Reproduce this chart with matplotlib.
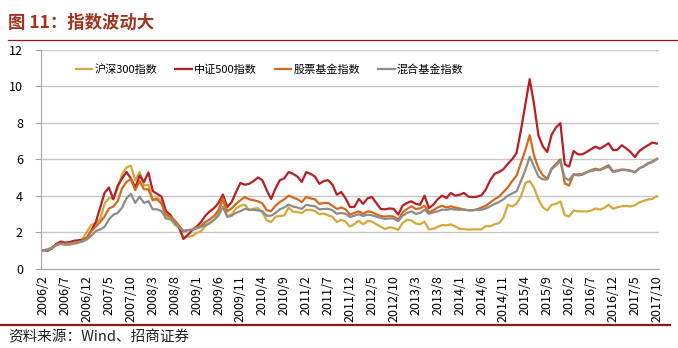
import numpy as np
import pandas as pd
import matplotlib
matplotlib.use('Agg')
import matplotlib.pyplot as plt
from matplotlib.lines import Line2D

plt.rcParams['font.family'] = ['Noto Sans CJK SC', 'DejaVu Sans']

# 月度数据，2006/2 = 1
months = pd.period_range('2006-02', '2017-10', freq='M')
labels = [f'{p.year}/{p.month}' for p in months]

hs300 = [1.00, 1.04, 1.17, 1.33, 1.36, 1.29, 1.30, 1.34, 1.40, 1.62,
         2.03, 2.40, 2.48, 2.72, 3.55, 3.87, 3.85, 4.42, 5.18, 5.55,
         5.65, 4.85, 5.30, 4.55, 4.60, 3.78, 3.88, 3.70, 2.78, 2.75,
         2.40, 2.25, 1.70, 1.75, 1.78, 1.95, 2.05, 2.33, 2.48, 2.68,
         3.10, 3.75, 2.86, 2.97, 3.30, 3.45, 3.50, 3.20, 3.28, 3.32,
         3.08, 2.65, 2.55, 2.85, 2.88, 2.92, 3.35, 3.12, 3.10, 3.05,
         3.22, 3.22, 3.16, 2.98, 3.02, 2.92, 2.84, 2.55, 2.68, 2.57,
         2.30, 2.44, 2.62, 2.43, 2.60, 2.58, 2.43, 2.30, 2.17, 2.26,
         2.22, 2.12, 2.50, 2.68, 2.64, 2.47, 2.43, 2.57, 2.15, 2.18,
         2.29, 2.38, 2.37, 2.42, 2.31, 2.18, 2.16, 2.14, 2.15, 2.15,
         2.15, 2.33, 2.32, 2.43, 2.49, 2.79, 3.50, 3.41, 3.56, 3.96,
         4.70, 4.80, 4.43, 3.80, 3.36, 3.19, 3.50, 3.55, 3.68, 2.93,
         2.86, 3.18, 3.14, 3.14, 3.13, 3.18, 3.30, 3.23, 3.32, 3.50,
         3.28, 3.36, 3.42, 3.43, 3.41, 3.47, 3.63, 3.72, 3.79, 3.82,
         3.98]

zz500 = [1.00, 0.98, 1.10, 1.35, 1.48, 1.42, 1.45, 1.52, 1.55, 1.58,
         1.68, 2.10, 2.55, 3.35, 4.15, 4.45, 3.80, 4.55, 4.95, 5.30,
         4.95, 4.45, 5.10, 4.75, 5.28, 4.25, 4.10, 3.95, 3.15, 2.95,
         2.55, 2.25, 1.62, 1.85, 2.10, 2.30, 2.55, 2.90, 3.14, 3.32,
         3.60, 4.06, 3.38, 3.65, 4.20, 4.70, 4.60, 4.65, 4.80, 5.00,
         4.85, 4.30, 3.82, 4.40, 4.85, 4.95, 5.30, 5.20, 5.05, 4.75,
         5.29, 5.20, 5.05, 4.65, 4.80, 4.85, 4.60, 4.05, 4.20, 3.85,
         3.38, 3.38, 3.82, 3.55, 3.85, 3.93, 3.60, 3.27, 3.25, 3.30,
         3.27, 2.96, 3.45, 3.60, 3.69, 3.55, 3.50, 4.00, 3.32, 3.50,
         3.80, 4.00, 3.87, 4.15, 4.00, 4.05, 4.15, 3.95, 3.92, 3.95,
         4.02, 4.35, 4.85, 5.20, 5.30, 5.45, 5.75, 6.00, 6.35, 7.60,
         9.00, 10.40, 9.00, 7.30, 6.70, 6.40, 7.35, 7.75, 7.98, 5.72,
         5.60, 6.45, 6.27, 6.27, 6.40, 6.55, 6.69, 6.58, 6.72, 6.88,
         6.50, 6.52, 6.77, 6.60, 6.40, 6.12, 6.45, 6.62, 6.77, 6.92,
         6.86]

stock_fund = [1.00, 1.03, 1.13, 1.30, 1.38, 1.36, 1.38, 1.42, 1.46, 1.55,
              1.72, 2.05, 2.30, 2.55, 2.85, 3.30, 3.40, 3.70, 4.40, 4.75,
              4.90, 4.30, 4.80, 4.35, 4.35, 3.75, 3.80, 3.55, 2.95, 2.85,
              2.65, 2.35, 2.02, 2.10, 2.15, 2.25, 2.35, 2.55, 2.70, 2.90,
              3.20, 3.87, 3.14, 3.30, 3.55, 3.75, 3.93, 3.80, 3.75, 3.69,
              3.58, 3.20, 3.15, 3.45, 3.65, 3.80, 4.00, 3.90, 3.80, 3.65,
              3.93, 3.85, 3.80, 3.55, 3.60, 3.60, 3.45, 3.27, 3.35, 3.25,
              2.96, 3.05, 3.14, 3.00, 3.14, 3.10, 2.98, 2.88, 2.85, 2.88,
              2.85, 2.68, 3.08, 3.27, 3.42, 3.27, 3.30, 3.45, 3.09, 3.20,
              3.35, 3.45, 3.35, 3.42, 3.35, 3.30, 3.22, 3.20, 3.20, 3.25,
              3.35, 3.45, 3.63, 3.80, 3.95, 4.20, 4.45, 4.80, 5.10, 5.80,
              6.50, 7.32, 6.20, 5.50, 5.12, 4.93, 5.50, 5.75, 6.00, 4.67,
              4.56, 5.17, 5.11, 5.15, 5.28, 5.40, 5.48, 5.42, 5.55, 5.67,
              5.35, 5.38, 5.44, 5.42, 5.38, 5.28, 5.50, 5.62, 5.78, 5.88,
              6.03]

mixed_fund = [1.00, 1.03, 1.12, 1.28, 1.35, 1.33, 1.35, 1.40, 1.43, 1.48,
              1.60, 1.80, 2.05, 2.15, 2.28, 2.70, 2.95, 3.05, 3.35, 3.85,
              4.10, 3.60, 3.95, 3.60, 3.70, 3.25, 3.25, 3.15, 2.75, 2.70,
              2.55, 2.25, 2.08, 2.10, 2.13, 2.20, 2.28, 2.40, 2.50, 2.68,
              2.90, 3.38, 2.83, 2.90, 3.05, 3.15, 3.27, 3.23, 3.22, 3.19,
              3.15, 2.90, 2.90, 3.05, 3.25, 3.35, 3.51, 3.40, 3.35, 3.27,
              3.50, 3.45, 3.42, 3.25, 3.27, 3.28, 3.20, 3.00, 3.05, 3.00,
              2.83, 2.90, 2.98, 2.88, 2.96, 2.92, 2.85, 2.78, 2.72, 2.75,
              2.74, 2.60, 2.90, 3.05, 3.14, 3.00, 3.05, 3.23, 3.00, 3.08,
              3.14, 3.23, 3.22, 3.27, 3.24, 3.22, 3.25, 3.20, 3.20, 3.22,
              3.23, 3.30, 3.42, 3.55, 3.65, 3.80, 4.00, 4.12, 4.24, 4.80,
              5.40, 6.14, 5.60, 5.05, 4.90, 4.89, 5.44, 5.67, 5.90, 4.98,
              4.85, 5.17, 5.17, 5.20, 5.30, 5.35, 5.41, 5.40, 5.50, 5.59,
              5.30, 5.35, 5.41, 5.40, 5.36, 5.30, 5.50, 5.60, 5.75, 5.85,
              6.00]

series = [
    ('沪深300指数', hs300, '#D4A83A'),
    ('中证500指数', zz500, '#B81E23'),
    ('股票基金指数', stock_fund, '#D4691C'),
    ('混合基金指数', mixed_fund, '#8C8C8C'),
]

fig = plt.figure(figsize=(6.78, 3.48), dpi=100)
ax = fig.add_axes([41 / 678, 1 - 268.5 / 348, 618 / 678, 218.5 / 348])

x = np.arange(len(labels))
for name, vals, col in series:
    ax.plot(x, vals, color=col, lw=1.6, label=name)

ax.set_xlim(-0.5, len(labels) - 0.5)
ax.set_ylim(0, 12)
ax.set_yticks(range(0, 13, 2))
ax.set_xticks(x[::5])
ax.set_xticklabels(labels[::5], rotation=90, fontsize=9)
ax.tick_params(axis='x', length=0, pad=5)
ax.tick_params(axis='y', length=4, color='#A6A6A6', labelsize=9, pad=9)
ax.yaxis.grid(True, color='#C8C8C8', lw=1)
ax.set_axisbelow(True)
for s in ['top', 'right']:
    ax.spines[s].set_visible(False)
ax.spines['left'].set_color('#A6A6A6')
ax.spines['bottom'].set_color('#A6A6A6')

ax.legend(loc='center', bbox_to_anchor=(0.37, 0.91), ncol=4, frameon=False,
          fontsize=8, handlelength=1.5, handletextpad=0.2, columnspacing=1.6)

# 标题与分隔线
fig.text(8 / 678, 1 - 23 / 348, '图 11：指数波动大', fontsize=12.5, fontweight='bold',
         color='#A2341F', va='center', ha='left')
fig.add_artist(Line2D([8 / 678, 1.0], [1 - 39.5 / 348] * 2, color='#8B1A1A', lw=0.9))
fig.add_artist(Line2D([0.0, 670 / 678], [1 - 325 / 348] * 2, color='#8B1A1A', lw=1.6))
fig.text(8 / 678, 1 - 337 / 348, '资料来源：Wind、招商证券', fontsize=10.5,
         color='#222222', va='center', ha='left')

fig.savefig('out.png', dpi=100)
